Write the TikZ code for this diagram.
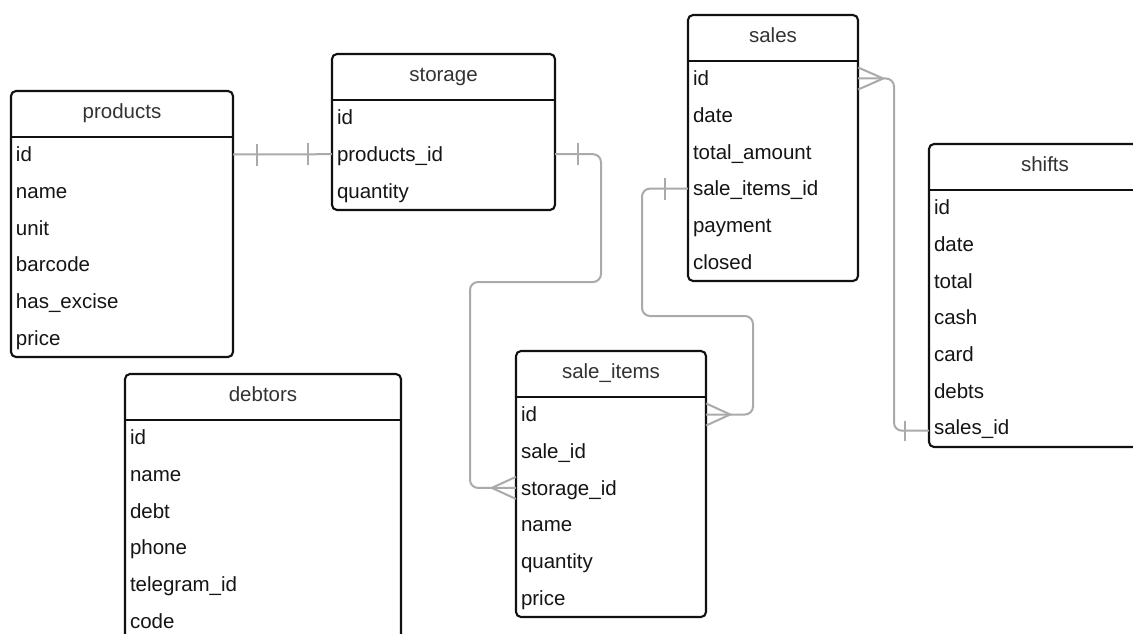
\documentclass[tikz,border=0pt]{standalone}
\usepackage{fontspec}
\setmainfont{Liberation Sans}
\usetikzlibrary{calc}

\definecolor{framecol}{HTML}{111111}
\definecolor{linkcol}{HTML}{AAAAAA}
\definecolor{titlecol}{HTML}{333333}
\definecolor{fieldcol}{HTML}{151515}

\tikzset{
  tableframe/.style={draw=framecol, line width=2.1pt, rounded corners=5pt},
  headerline/.style={draw=framecol, line width=2.1pt},
  titlecell/.style={inner sep=0pt, text=titlecol, font=\fontsize{20.5}{24}\selectfont,
                    text height=14.7pt, text depth=4.3pt},
  fieldcell/.style={inner xsep=5pt, inner ysep=0pt, minimum height=36.7pt, align=left,
                    text=fieldcol, font=\fontsize{20.5}{24}\selectfont,
                    text height=16.7pt, text depth=2.3pt},
  link/.style={draw=linkcol, line width=2pt, rounded corners=8pt},
  linkmark/.style={draw=linkcol, line width=2pt},
}

% #1 name, #2 left, #3 top, #4 right, #5 bottom, #6 title, #7 fields
\newcommand{\erdtable}[7]{%
  \pgfmathsetmacro{\erdcx}{(#2+#4)/2}%
  \pgfmathsetmacro{\erdw}{#4-#2}%
  \pgfmathsetmacro{\erdtxw}{#4-#2-10}%
  \pgfmathsetmacro{\erdhb}{#3+46}%
  \draw[tableframe] (#2,#3) rectangle (#4,#5);
  \draw[headerline] (#2,\erdhb) -- (#4,\erdhb);
  \node[titlecell] (#1-title) at (\erdcx,{#3+22.5}) {#6};
  \foreach \fld [count=\i] in {#7} {
    \node[fieldcell, minimum width=\erdw pt, text width=\erdtxw pt]
      (#1-\i) at (\erdcx,{\erdhb+17.5+(\i-1)*36.7}) {\fld};
  }
}

\begin{document}
\begin{tikzpicture}[x=1pt, y=-1pt]
\path[use as bounding box] (0,0) rectangle (1133,634);
\fill[white] (0,0) rectangle (1133,634);
\clip (0,0) rectangle (1133,634);

% tables
\erdtable{products}{11}{91}{233}{357}{products}{id,name,unit,barcode,has\_excise,price}
\erdtable{storage}{332}{54}{555}{210}{storage}{id,products\_id,quantity}
\erdtable{sales}{688}{15}{858}{281}{sales}{id,date,total\_amount,sale\_items\_id,payment,closed}
\erdtable{shifts}{929}{144}{1161}{447}{shifts}{id,date,total,cash,card,debts,sales\_id}
\erdtable{saleitems}{516}{351}{706}{617}{sale\_items}{id,sale\_id,storage\_id,name,quantity,price}
\erdtable{debtors}{125}{374}{401}{680}{debtors}{id,name,debt,phone,telegram\_id,code}

% products.id -- storage.products_id (one to one)
\draw[link] (products-1.east) -- (storage-2.west);
\draw[linkmark] ($(products-1.east)+(24,-11)$) -- ++(0,22);
\draw[linkmark] ($(storage-2.west)+(-24,-11)$) -- ++(0,22);

% storage.products_id -- sale_items.storage_id (one to many)
\draw[link] (storage-2.east) -| (601,282) -- (470,282) |- (saleitems-3.west);
\draw[linkmark] ($(storage-2.east)+(23,-11)$) -- ++(0,22);
\coordinate (siFoot) at ($(saleitems-3.west)+(-24,0)$);
\draw[linkmark] ($(saleitems-3.west)+(0,-11)$) -- (siFoot) -- ($(saleitems-3.west)+(0,11)$);

% sales.sale_items_id -- sale_items.id (one to many)
\draw[link] (sales-4.west) -| (642,316) -- (753,316) |- (saleitems-1.east);
\draw[linkmark] ($(sales-4.west)+(-23,-11)$) -- ++(0,22);
\coordinate (saFoot) at ($(saleitems-1.east)+(24,0)$);
\draw[linkmark] ($(saleitems-1.east)+(0,-11)$) -- (saFoot) -- ($(saleitems-1.east)+(0,11)$);

% sales.id -- shifts.sales_id (many to one)
\draw[link] (sales-1.east) -| (894,300) |- ([yshift=-3pt]shifts-7.west);
\coordinate (shFoot) at ($(sales-1.east)+(25,0)$);
\draw[linkmark] ($(sales-1.east)+(0,-11)$) -- (shFoot) -- ($(sales-1.east)+(0,11)$);
\draw[linkmark] ($([yshift=-3pt]shifts-7.west)+(-24,-10)$) -- ++(0,20);
\end{tikzpicture}
\end{document}
